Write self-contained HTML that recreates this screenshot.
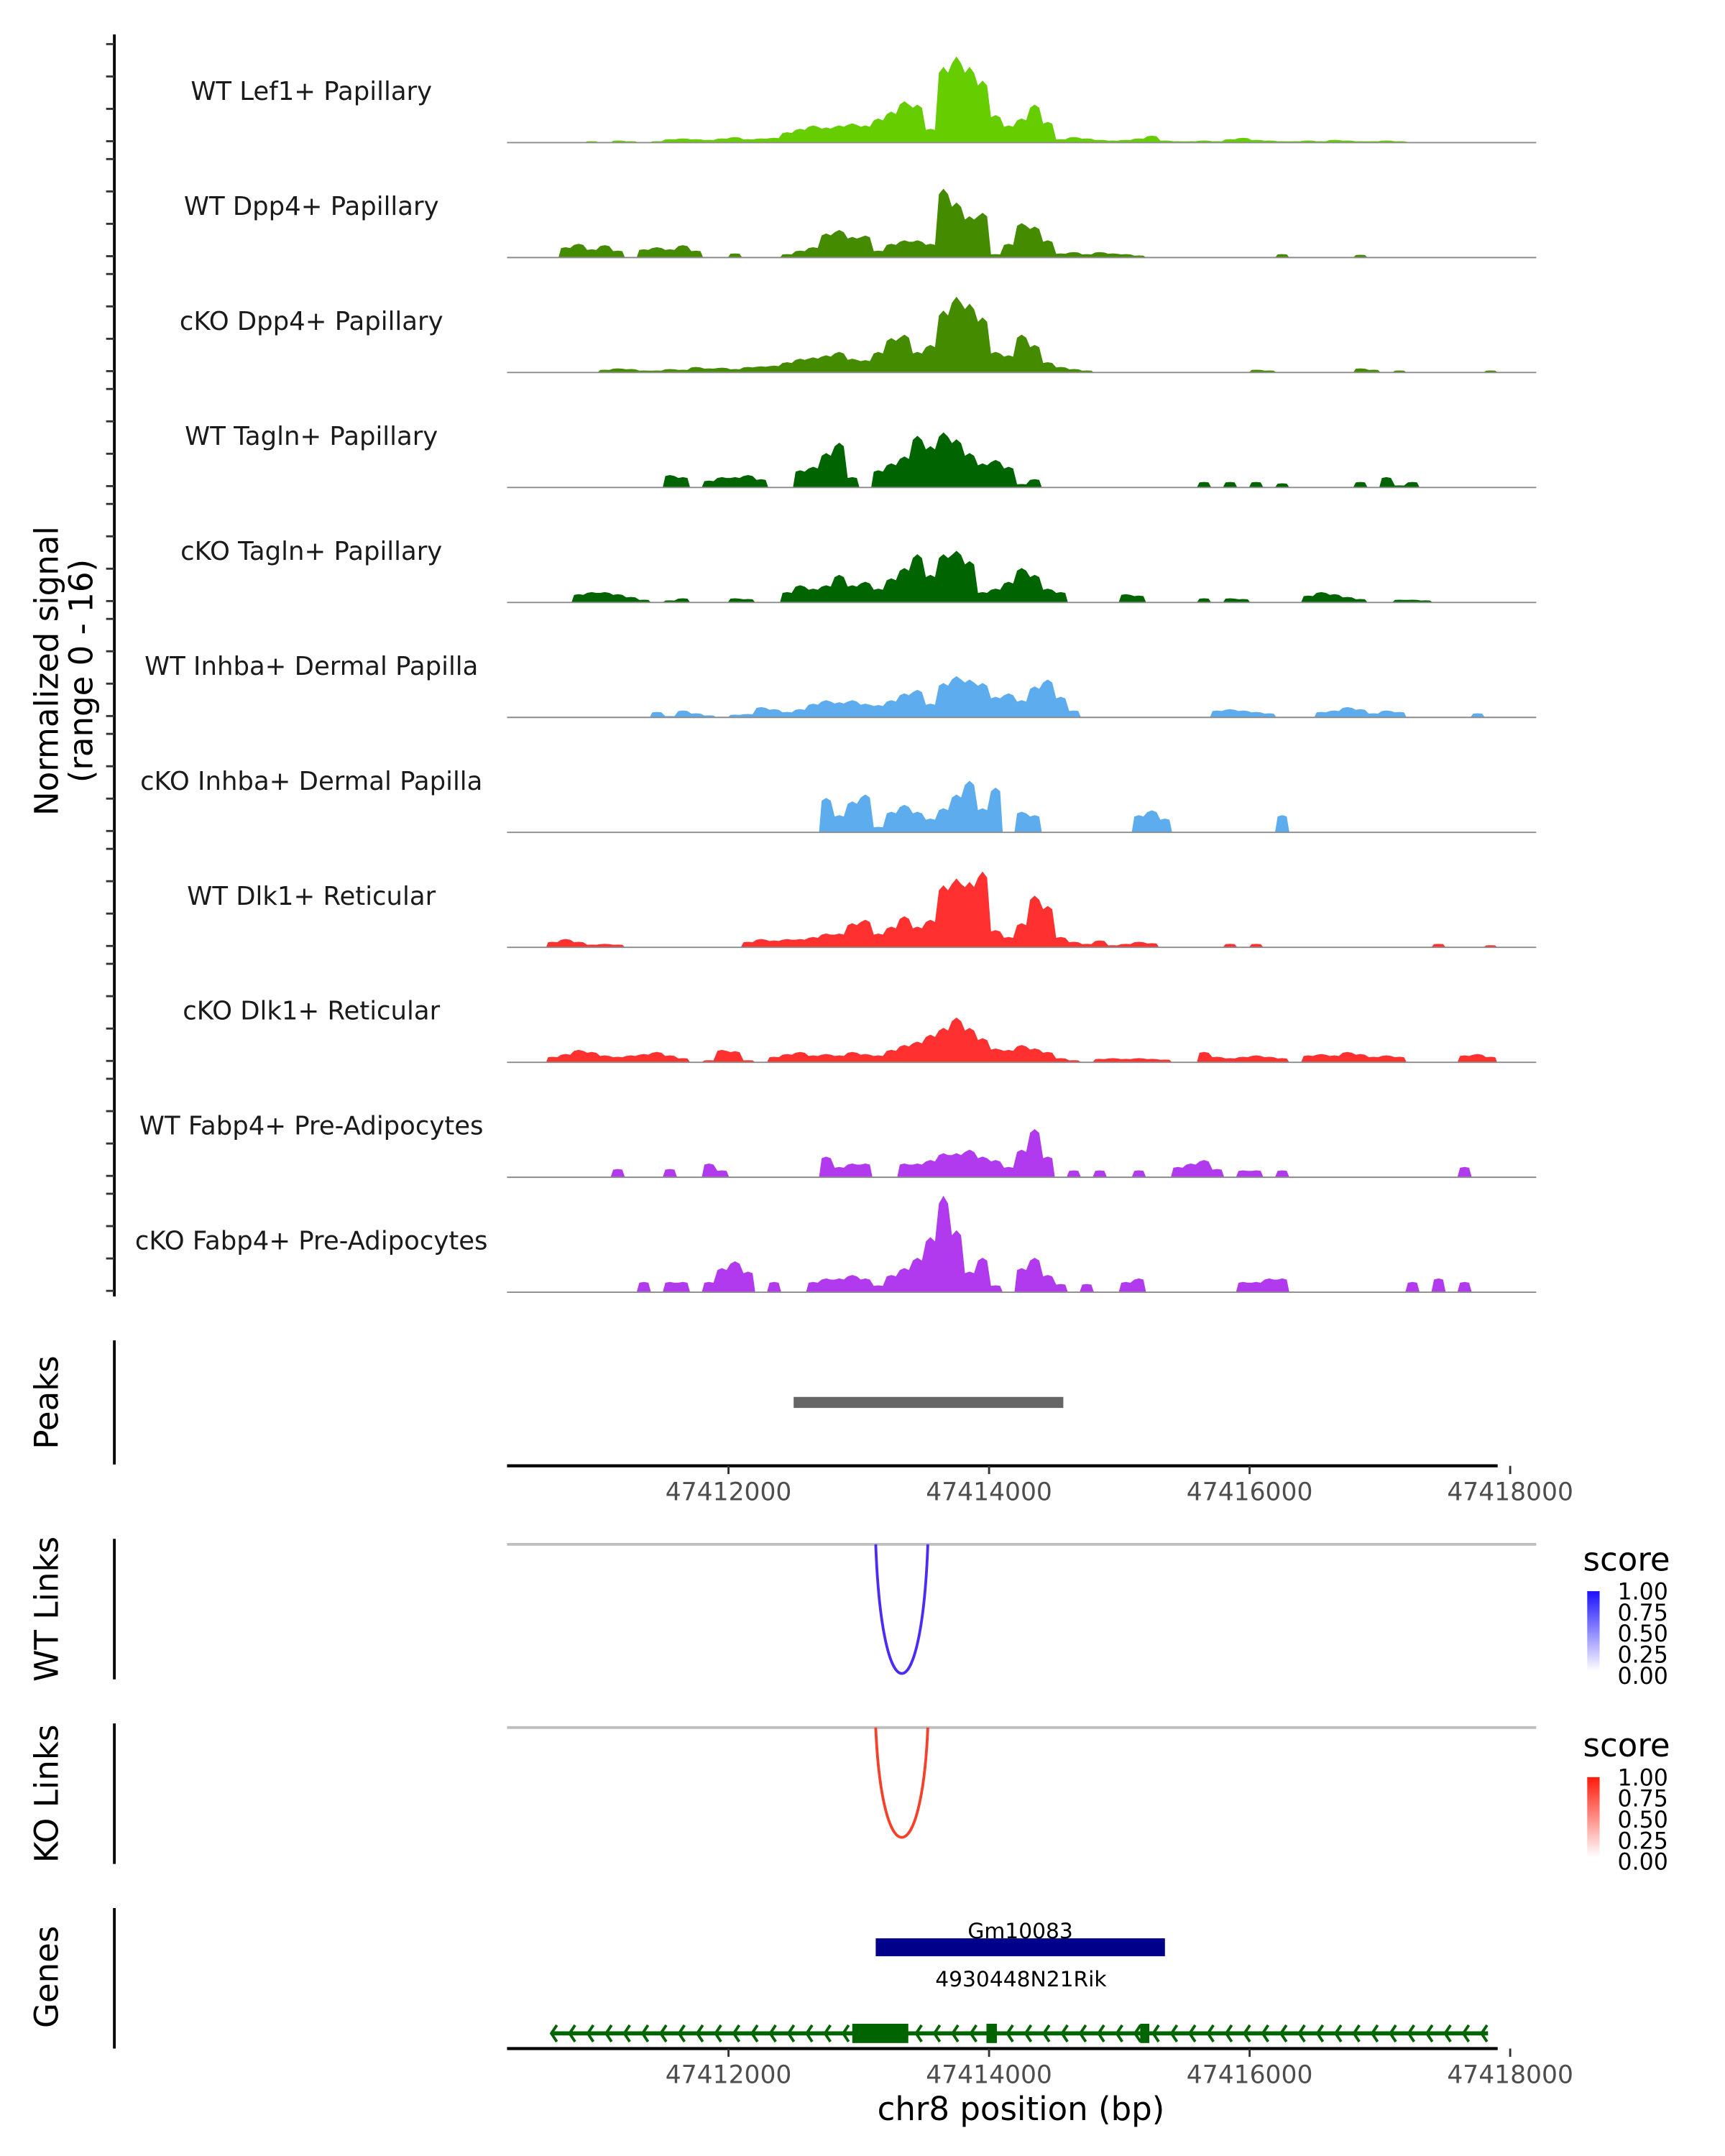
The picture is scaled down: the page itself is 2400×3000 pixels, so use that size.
<!DOCTYPE html>
<html><head><meta charset="utf-8"><style>
html,body{margin:0;padding:0;background:#fff;}
svg{display:block;font-family:"DejaVu Sans","Liberation Sans",sans-serif;}
</style></head><body>
<svg id="chart" width="2400" height="3000" viewBox="0 0 1252 1565" preserveAspectRatio="none" xmlns="http://www.w3.org/2000/svg">
<defs>
<linearGradient id="gBlue" x1="0" y1="1" x2="0" y2="0"><stop offset="0" stop-color="#ffffff"/><stop offset="1" stop-color="#1a10ff"/></linearGradient>
<linearGradient id="gRed" x1="0" y1="1" x2="0" y2="0"><stop offset="0" stop-color="#ffffff"/><stop offset="1" stop-color="#ff1a0a"/></linearGradient>
</defs>
<g id="tracks"></g>
<g id="static">
<text transform="translate(42,487) rotate(-90)" text-anchor="middle" font-size="23.5" fill="#000">Normalized signal</text>
<text transform="translate(67,487) rotate(-90)" text-anchor="middle" font-size="23.5" fill="#000">(range 0 - 16)</text>
<text transform="translate(42,1018) rotate(-90)" text-anchor="middle" font-size="23.5">Peaks</text>
<line x1="83" y1="973" x2="83" y2="1063" stroke="#000" stroke-width="2"/>
<text transform="translate(42,1168) rotate(-90)" text-anchor="middle" font-size="23.5">WT Links</text>
<line x1="83" y1="1117" x2="83" y2="1219" stroke="#000" stroke-width="2"/>
<text transform="translate(42,1302) rotate(-90)" text-anchor="middle" font-size="23.5">KO Links</text>
<line x1="83" y1="1251" x2="83" y2="1353" stroke="#000" stroke-width="2"/>
<text transform="translate(42,1435) rotate(-90)" text-anchor="middle" font-size="23.5">Genes</text>
<line x1="83" y1="1385" x2="83" y2="1487" stroke="#000" stroke-width="2"/>
<line x1="368" y1="1121" x2="1115" y2="1121" stroke="#bebebe" stroke-width="2"/>
<line x1="368" y1="1254" x2="1115" y2="1254" stroke="#bebebe" stroke-width="2"/>
<text x="1149" y="1140" font-size="23.5">score</text>
<rect x="1152" y="1155" width="9" height="58" fill="url(#gBlue)"/>
<text x="1149" y="1275" font-size="23.5">score</text>
<rect x="1152" y="1290" width="9" height="58" fill="url(#gRed)"/>
<text x="741" y="1539" text-anchor="middle" font-size="23.5">chr8 position (bp)</text>
</g>
</svg>
<script>
const start = 47410600, binSize = 100;
const domainMin = 47410300, domainMax = 47418200;
const trackNames = ["WT Lef1+ Papillary","WT Dpp4+ Papillary","cKO Dpp4+ Papillary","WT Tagln+ Papillary","cKO Tagln+ Papillary","WT Inhba+ Dermal Papilla","cKO Inhba+ Dermal Papilla","WT Dlk1+ Reticular","cKO Dlk1+ Reticular","WT Fabp4+ Pre-Adipocytes","cKO Fabp4+ Pre-Adipocytes"];
const trackColors = ["#66cd00","#458b00","#458b00","#006400","#006400","#5cacee","#5cacee","#ff3030","#ff3030","#b23aee","#b23aee"];
const lef1WT = [0,0.1,0,0.2,0,0.3,0.2,0,0.2, 0.5,0.6,0.5,0.4,0.6,0.8,0.5,0.6,0.7, 1.5,2,2.5,2.2,2.5,2.8,2.5,3.5,4.5, 6,5.5,2, 11,12.5,11,9, 4,2.5, 3.5,5.5,3, 0.5,0.8,0.6,0.4,0.3,0.4,0.6,1, 0.3,0.2,0.2,0.3,0.2,0.5,0.7,0.4,0.3,0.2,0.2,0.3,0.2,0.4,0.3,0.2,0.2,0.3,0.2,0.1,0,0,0.1,0,0,0];
const dpp4WT = [0, 1.5,2,1.2,1.8,1, 0, 1.2,1.5,1.2,1.8,1, 0,0, 0.6, 0,0,0, 0.5,1,1.5, 3.5,4,3,3.2, 1, 2,2.5,2.5,2, 10,8, 6,6.5, 0.5,2, 5,4.5,2.5, 0.6,0.8,0.5,0.8,0.6,0.5,0.3, 0,0,0,0,0,0,0,0,0,0, 0.5, 0,0,0,0,0, 0.4, 0,0,0,0,0,0,0,0,0,0];
const dpp4KO = [0,0,0,0, 0.4,0.6,0.5,0.3, 0.3,0.5,0.4,0.8,0.6,0.7,0.5,0.8,0.9,1, 1.5,2,2.2,2.5,3,2,1.8, 3,5,5.5, 3,4, 9,11,10,8, 3,2.5, 5.5,4, 1.5,0.8,0.5,0.3, 0,0,0,0,0,0,0,0,0,0,0,0, 0.4,0.3, 0,0,0,0,0,0, 0.6,0.4,0,0.3,0,0,0,0,0,0,0.3,0];
const taglnWT = [0,0,0,0,0,0,0,0,0, 1.8,1.5, 0, 1,1.5,1.5,1.8,1.2, 0,0, 2.5,3, 5,6.5, 1.5,0, 2.5,3.5,4.5, 7.5,6, 8,7, 5, 3.5,4,3, 0.5, 1.2,0, 0,0,0,0,0,0,0,0,0,0,0, 0.8,0,0.8,0,0.8,0,0.6, 0,0,0,0,0, 0.8,0,1.5,0.3,0.8, 0,0,0,0,0,0];
const taglnKO = [0,0, 1.2,1.5, 1.5,1.2,0.8, 0.4, 0,0.3, 0.6, 0,0,0, 0.6,0.5, 0,0, 1.5,2.5,2,2.5, 4, 2.5,3,2, 3.5,5,7, 4, 7,7.5,6, 1.5,2,3, 5,4, 2,1.5, 0,0,0,0, 1.2,1, 0,0,0,0, 0.6, 0, 0.6,0.5, 0,0,0,0, 1,1.5,1.2,0.8, 0.5, 0,0, 0.4,0.4,0.3, 0,0,0,0,0];
const inhbaWT = [0,0,0,0,0,0,0,0, 0.8,0.2,1,0.6,0.3,0,0.4,0.5,1.5,1.2,0.8,1.2,2,2.5,2.2,2.5,2,1.8,2.5,3.5,4,2,5,6,5.5,5,3,3.5,2.5,4.5,5.5,3,1, 0,0,0,0,0,0,0,0,0,0, 1,1.2,1,0.8,0.6, 0,0,0, 0.8,1,1.5,1.2,0.6,1,0.8, 0,0,0,0,0, 0.6,0];
const inhbaKO = [0,0,0,0,0,0,0,0,0,0,0,0,0,0,0,0,0,0,0,0, 0,5,2.5,4.5,5.5,0.8,3,4,3,2,3.5,5.5,7.5,3.5,6.5,0,3,2.5,0, 0,0,0,0,0,0, 2.5,3.2,2, 0,0,0,0,0,0,0,0, 2.5, 0,0,0,0,0,0,0,0,0,0,0,0,0,0,0,0];
const dlk1WT = [0.8,1.2,0.8,0.4,0.5,0.4, 0,0,0,0,0,0,0,0,0, 0.8,1.2,1,1.2,1.2,1.5,2,2,3.5,4,2,3,4.5,3,4,9,10,9.5,11,2.5,1.5,3.5,7.5,6,1.5,0.8,0.5,1,0.3,0.5,0.8,0.6, 0,0,0,0,0, 0.5,0,0.5, 0,0,0,0,0,0,0,0,0,0,0,0,0, 0.5, 0,0,0, 0.3];
const dlk1KO = [0.8,1.2,1.8,1.5,1,0.8,1,1.2,1.5,1,0.6,0,0.3,1.8,1.6,0.3,0,0.8,1.2,1.5,1,1.2,1,1.5,1.2,1,1.8,2.5,3,4,5,6.5,5,3.5,2,1.8,2.5,2,1.5,0.6,0.3,0,0.5,0.6,0.5,0.6,0.5,0.4,0,0,1.5,0.8,0.6,0.8,1,0.8,0.6,0,1,1.2,1,1.5,1.2,0.8,1,0.8,0,0,0,0,1,1.2,0.8];
const fabp4WT = [0,0,0,0,0,1.2,0,0,0,1.2,0,0,2,1,0,0,0,0,0,0,0,3,1.5,2,2,0,0,2,2,2.5,3.5,3.5,4,3,2.5,1.5,4,7,3,0,1,0,1,0,0,1,0,0,1.5,2,2.5,1.2,0,1,1,0,1,0,0,0,0,0,0,0,0,0,0,0,0,0,1.5,0,0];
const fabp4KO = [0,0,0,0,0,0,0,1.5,0,1.5,1.5,0,1.5,3.5,4.5,3,0,1.5,0,0,1.5,2,2,2.5,2,1,2.5,3.5,5,8,14,9,3,5,1,0,3.5,5,2.5,1.2,0,1.2,0,0,1.5,2,0,0,0,0,0,0,0,1.5,1.5,2,2,0,0,0,0,0,0,0,0,0,1.5,0,2,0,1.5,0,0];
const trackValues = [lef1WT,dpp4WT,dpp4KO,taglnWT,taglnKO,inhbaWT,inhbaKO,dlk1WT,dlk1KO,fabp4WT,fabp4KO];
const yMax = 16;
const xTicks = [47412000,47414000,47416000,47418000];
const peakRanges = [[47412500,47414570]];
const wtLinks = [[47413130,47413530,1.0]];
const koLinks = [[47413130,47413530,0.85]];
const legendTicks = ["1.00","0.75","0.50","0.25","0.00"];
const gene1 = {name:"Gm10083", start:47413130, end:47415350};
const gene2 = {name:"4930448N21Rik", start:47410640, end:47417830};
const gene2Exons = [[47412950,47413380],[47413980,47414060],[47415160,47415230]];

const NS="http://www.w3.org/2000/svg";
const X0=368, X1=1115;
function xs(bp){return X0+(bp-domainMin)/(domainMax-domainMin)*(X1-X0);}
function mk(tag,attrs,parent){const e=document.createElementNS(NS,tag);for(const k in attrs)e.setAttribute(k,attrs[k]);parent.appendChild(e);return e;}
const tg=document.getElementById('tracks');
const svg=document.getElementById('chart');
const top0=103.5, spacing=83.45, trackH=80;
function ys(v,base){return base - v/yMax*trackH;}
let ax=mk('line',{x1:83,y1:25,x2:83,y2:941,stroke:'#000','stroke-width':2},tg);


trackValues.forEach((vals,t)=>{
  const base=top0+t*spacing;
  const g=mk('g',{},tg);
  
  
  for(let k=0;k<4;k++){
    const ty=base-1-k*23.5;
    const tk=mk('line',{x1:77,y1:ty,x2:83,y2:ty,stroke:'#333','stroke-width':1.5},g);
    
    
  }
  let d='M'+xs(start).toFixed(2)+','+base;
  vals.forEach((v,i)=>{
    const a=start+i*binSize, b=a+binSize;
    if(v===0){
      d+=' L'+xs(a+5).toFixed(2)+','+base+' L'+xs(b-5).toFixed(2)+','+base;
    } else {
      d+=' L'+xs(a+15).toFixed(2)+','+ys(v*0.92,base).toFixed(2)+' L'+xs(a+50).toFixed(2)+','+ys(v,base).toFixed(2)+' L'+xs(b-15).toFixed(2)+','+ys(v*0.92,base).toFixed(2);
    }
  });
  d+=' L'+xs(start+vals.length*binSize).toFixed(2)+','+base+' Z';
  const p=mk('path',{d:d,fill:trackColors[t],stroke:'none'},g);
  
  
  const bl=mk('line',{x1:X0,y1:base,x2:X1,y2:base,stroke:'#8c8c8c','stroke-width':1},g);
  
  
  const lb=mk('text',{x:226,y:base-31,'text-anchor':'middle','font-size':'18.5',fill:'#1a1a1a'},g);
  lb.textContent=trackNames[t];
  
  
});
peakRanges.forEach(r=>{
  const pr=mk('rect',{x:xs(r[0]),y:1014,width:xs(r[1])-xs(r[0]),height:8,fill:'#666'},svg);
  
  
});
function xAxis(y){
  const l=mk('line',{x1:X0,y1:y,x2:1087,y2:y,stroke:'#000','stroke-width':2.2},svg);
  
  
  xTicks.forEach(tv=>{
    const tl=mk('line',{x1:xs(tv),y1:y,x2:xs(tv),y2:y+6,stroke:'#333','stroke-width':1.5},svg);
    
    
    const tt=mk('text',{x:xs(tv),y:y+25,'text-anchor':'middle','font-size':'18',fill:'#4d4d4d'},svg);
    tt.textContent=String(tv);
    
    
  });
}
xAxis(1064);
xAxis(1487);
function links(arr,base,color){
  arr.forEach(L=>{
    const a=xs(L[0]), b=xs(L[1]), depth=94*L[2];
    const c=mk('path',{d:`M${a},${base} C${a+(b-a)*0.12},${base+depth*1.33} ${b-(b-a)*0.12},${base+depth*1.33} ${b},${base}`,fill:'none',stroke:color,'stroke-width':2},svg);
    
    
  });
}
links(wtLinks,1121,'#4a2cf5');
links(koLinks,1254,'#f5402a');
[1155,1290].forEach((ly,li)=>{
  legendTicks.forEach((t,i)=>{
    const tx=mk('text',{x:1174,y:ly+6+i*15.3,'font-size':'16.5',fill:'#000'},svg);
    tx.textContent=t;
    
    
  });
});
const g1=mk('rect',{x:xs(gene1.start),y:1407,width:xs(gene1.end)-xs(gene1.start),height:13,fill:'#00008b'},svg);


const g1t=mk('text',{x:(xs(gene1.start)+xs(gene1.end))/2,y:1407,'text-anchor':'middle','font-size':'15.5'},svg);
g1t.textContent=gene1.name;


const g2l=mk('line',{x1:xs(gene2.start),y1:1476,x2:xs(gene2.end),y2:1476,stroke:'#006400','stroke-width':3},svg);


for(let bp=gene2.start;bp<gene2.end;bp+=140){
  const x=xs(bp);
  const ch=mk('path',{d:`M${x+4},${1470} L${x},${1476} L${x+4},${1482}`,fill:'none',stroke:'#006400','stroke-width':2},svg);
  
  
}
gene2Exons.forEach(e=>{
  const r=mk('rect',{x:xs(e[0]),y:1469,width:xs(e[1])-xs(e[0]),height:14,fill:'#006400'},svg);
  
  
});
const g2t=mk('text',{x:741,y:1442,'text-anchor':'middle','font-size':'15.5'},svg);
g2t.textContent=gene2.name;


</script>
</body></html>
